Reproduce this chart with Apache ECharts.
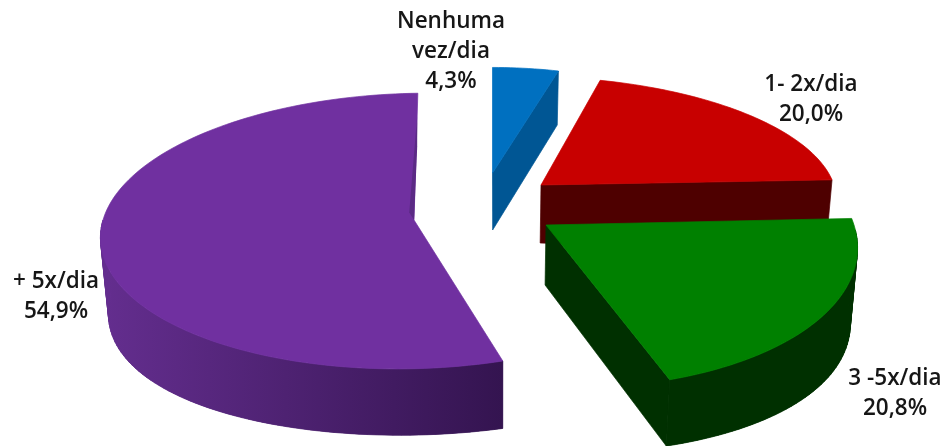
<!DOCTYPE html>
<html>
<head>
<meta charset="utf-8">
<style>html,body{margin:0;padding:0;background:#fff}#c{width:950px;height:446px;filter:blur(0.5px)}</style>
<script src="https://cdn.jsdelivr.net/npm/echarts@6/dist/echarts.min.js"></script>
</head>
<body>
<div id="c"></div>
<script>
// Data
var categories = ['Nenhuma\nvez/dia', '1- 2x/dia', '3 -5x/dia', '+ 5x/dia'];
var shares = [4.3, 20.0, 20.8, 54.9];
var percentLabels = ['4,3%', '20,0%', '20,8%', '54,9%'];

// Colours: top face, cut face, outer wall (left/right of gradient)
var topColors = ['#0070c0', '#c80000', '#008000', '#7030a0'];
var faceColors = ['#005694', '#4e0000', '#003000', '#5b2a85'];
var wallColors = [['#005694', '#005694'], ['#4e0000', '#4e0000'], ['#003000', '#003000'], ['#642e8f', '#341450']];

// Tilted-pie view of every exploded slice: apex, radii, skew, thickness, small angle trims
var views = [
  { ax: 492.5, ay: 173, A: 266, B: 114, C: 0, d: 57, rot: 0, trim: 0 },
  { ax: 541, ay: 185, A: 293, B: 117, C: -15, d: 58, rot: 0, trim: 0 },
  { ax: 546, ay: 225, A: 308, B: 150, C: -22, d: 60, rot: 0, trim: 0 },
  { ax: 414, ay: 220, A: 311, B: 137, C: 15, d: 61, rot: -2, trim: 1.6 }
];
var persp = 0.08, vanishX = 500, shrink = 0.98, bulge = 15;
var labelAnchors = [[451, 51.5], [811, 100], [895, 394], [56, 297]];

var total = shares.reduce(function (a, b) { return a + b; }, 0);
var startAngles = [], run = 0;
shares.forEach(function (v) { startAngles.push(run / total * 360); run += v; });

function project(view, deg) {
  var t = deg * Math.PI / 180, u = Math.sin(t), v = Math.cos(t), s = 1 / (1 + persp * v);
  return { x: view.ax + (view.A * u + view.C * v) * s, y: view.ay - view.B * v * s, s: s, u: u };
}
function lower(view, p) {
  return [vanishX + (p.x - vanishX) * shrink, p.y + view.d * p.s + bulge * p.u * p.u];
}
function arc(view, from, to) {
  var pts = [], n = Math.max(2, Math.ceil(Math.abs(to - from) / 1.5));
  for (var i = 0; i <= n; i++) pts.push(project(view, from + (to - from) * i / n));
  return pts;
}

function renderSlice(params, api) {
  var i = params.dataIndex, view = views[i];
  var base = startAngles[i] + view.rot;
  var from = base + view.trim;
  var to = base + api.value(0) / total * 360;
  var apex = { x: view.ax, y: view.ay, s: 1, u: 0 };
  var children = [];
  function poly(points, fill, seal) {
    children.push({
      type: 'polygon', shape: { points: points },
      style: { fill: fill, stroke: seal ? fill : null, lineWidth: seal ? 0.7 : 0 }
    });
  }
  // cut face at the end of the slice, when it faces the viewer
  var endPt = project(view, to);
  if (Math.cos((to + 90) * Math.PI / 180) < -0.02) {
    poly([[apex.x, apex.y], [endPt.x, endPt.y], lower(view, endPt), lower(view, apex)], faceColors[i], true);
  }
  // outer wall: swept strips give the straight silhouette off the rim, a smooth gradient covers their seams
  var wFrom = Math.max(from, 92), wTo = Math.min(to, 270);
  if (wTo > wFrom) {
    var rim = arc(view, wFrom, wTo);
    var xs = rim.map(function (p) { return p.x; });
    var minX = Math.min.apply(null, xs), maxX = Math.max.apply(null, xs);
    for (var k = 0; k < rim.length - 1; k++) {
      var a = rim[k], b = rim[k + 1];
      var c = echarts.color.lerp((a.x - minX) / (maxX - minX || 1), wallColors[i]);
      poly([[a.x, a.y], [b.x, b.y], lower(view, b), lower(view, a)], c, true);
    }
    var pts = rim.map(function (p) { return [p.x, p.y]; });
    rim.slice().reverse().forEach(function (p) { pts.push(lower(view, p)); });
    poly(pts, {
      type: 'linear', x: 0, y: 0, x2: 1, y2: 0,
      colorStops: [{ offset: 0, color: wallColors[i][0] }, { offset: 1, color: wallColors[i][1] }]
    }, false);
  }
  // top face
  var top = [[apex.x, apex.y]].concat(arc(view, from, to).map(function (p) { return [p.x, p.y]; }));
  poly(top, topColors[i], true);
  // thin inner sliver where the closing edge of the large slice just shows
  if (to > 355) {
    var lerp = function (t, dx) { return [endPt.x + (apex.x - endPt.x) * t + dx, endPt.y + (apex.y - endPt.y) * t]; };
    poly([lerp(0.18, 0), lerp(0.42, 1), [apex.x, apex.y], lerp(0.94, -5)], faceColors[i], false);
  }
  // label
  children.push({
    type: 'text',
    style: {
      x: labelAnchors[i][0], y: labelAnchors[i][1],
      text: categories[i] + '\n' + percentLabels[i],
      fill: '#161616', align: 'center', verticalAlign: 'middle',
      font: '600 22.5px "Open Sans"', lineHeight: 30
    }
  });
  return { type: 'group', children: children };
}

var chart = echarts.init(document.getElementById('c'), null, { renderer: 'canvas' });
chart.setOption({
  animation: false,
  backgroundColor: '#ffffff',
  series: [{
    type: 'custom',
    coordinateSystem: 'none',
    renderItem: renderSlice,
    data: shares.map(function (v, i) { return { name: categories[i], value: [v] }; })
  }]
});
</script>
</body>
</html>
